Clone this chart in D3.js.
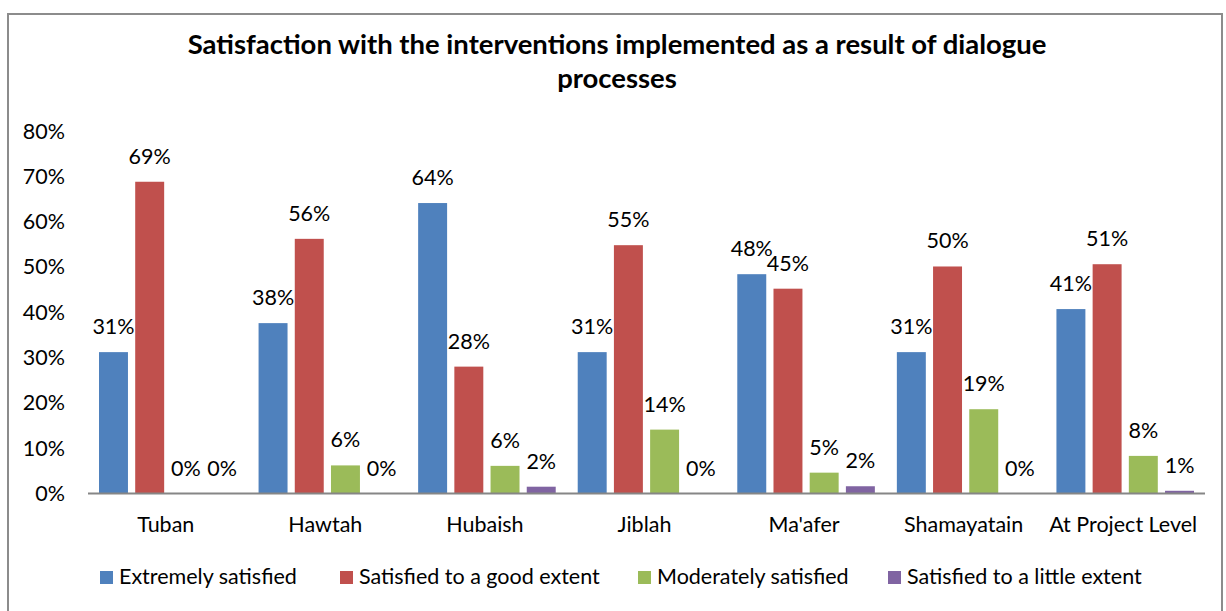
<!DOCTYPE html>
<html>
<head>
<meta charset="utf-8">
<script src="https://cdn.jsdelivr.net/npm/d3@7"></script>
<style>
  body { margin: 0; background: #fff; }
  svg { display: block; font-family: Lato, "Open Sans", sans-serif; }
</style>
</head>
<body>
<div id="chart"></div>
<script>
// data (percent)
var categories = ["Tuban", "Hawtah", "Hubaish", "Jiblah", "Ma'afer", "Shamayatain", "At Project Level"];
var seriesNames = ["Extremely satisfied", "Satisfied to a good extent", "Moderately satisfied", "Satisfied to a little extent"];
var extremely = [31.2, 37.6, 64.1, 31.2, 48.4, 31.2, 40.7];
var goodExtent = [68.8, 56.2, 28.0, 54.8, 45.2, 50.1, 50.6];
var moderately = [0, 6.2, 6.1, 14.1, 4.6, 18.6, 8.3];
var littleExtent = [0, 0, 1.5, 0, 1.6, 0, 0.6];
var yTicks = [0, 10, 20, 30, 40, 50, 60, 70, 80];
var colors = ["#4f81bd", "#c0504d", "#9bbb59", "#8064a2"];

var series = [extremely, goodExtent, moderately, littleExtent];

var width = 1226, height = 611;
var fontSize = 21.5;
var svg = d3.select('#chart').append('svg')
    .attr('width', width)
    .attr('height', height);

// outer frame
svg.append('rect')
    .attr('x', 8).attr('y', 14)
    .attr('width', 1214).attr('height', 620)
    .attr('fill', 'none')
    .attr('stroke', '#8c8c8c')
    .attr('stroke-width', 2);

// title, sized so the first line spans the same width as the reference
var title = svg.append('g').attr('font-weight', 'bold').attr('fill', '#000').attr('text-anchor', 'middle');
var t1 = title.append('text').attr('x', 617).attr('y', 54)
    .text('Satisfaction with the interventions implemented as a result of dialogue');
var fs = 22;
t1.attr('font-size', fs);
var w = t1.node().getComputedTextLength();
fs = fs * 859 / w;
t1.attr('font-size', fs);
title.append('text').attr('x', 617).attr('y', 88).attr('font-size', fs).text('processes');

var x0 = d3.scaleBand().domain(categories).range([88, 1205]).padding(0);
var x1 = d3.scaleBand().domain(d3.range(series.length))
    .range([11, x0.bandwidth() - 11]).paddingInner(0.2).paddingOuter(0);
var y = d3.scaleLinear().domain([0, 80]).range([493.5, 131]);

// y tick labels
svg.append('g').selectAll('text')
    .data(yTicks)
    .join('text')
    .attr('x', 65)
    .attr('y', function(d) { return y(d); })
    .attr('dy', '0.35em')
    .attr('text-anchor', 'end')
    .attr('font-size', fontSize)
    .attr('fill', '#000')
    .text(function(d) { return d + '%'; });

// bars
var groups = svg.append('g').selectAll('g')
    .data(categories)
    .join('g')
    .attr('transform', function(d) { return 'translate(' + x0(d) + ',0)'; });

groups.selectAll('rect')
    .data(function(d, i) { return series.map(function(s, k) { return { k: k, v: s[i] }; }); })
    .join('rect')
    .attr('x', function(d) { return x1(d.k); })
    .attr('width', x1.bandwidth())
    .attr('y', function(d) { return y(d.v); })
    .attr('height', function(d) { return y(0) - y(d.v); })
    .attr('fill', function(d) { return colors[d.k]; });

groups.selectAll('text')
    .data(function(d, i) { return series.map(function(s, k) { return { k: k, v: s[i] }; }); })
    .join('text')
    .attr('x', function(d) { return x1(d.k) + x1.bandwidth() / 2; })
    .attr('y', function(d) { return y(d.v) - 18; })
    .attr('text-anchor', 'middle')
    .attr('font-size', fontSize)
    .attr('fill', '#000')
    .text(function(d) { return Math.round(d.v) + '%'; });

// x axis line
svg.append('line')
    .attr('x1', 88).attr('x2', 1205)
    .attr('y1', y(0)).attr('y2', y(0))
    .attr('stroke', '#868686')
    .attr('stroke-width', 2);

// category labels
svg.append('g').selectAll('text')
    .data(categories)
    .join('text')
    .attr('x', function(d) { return x0(d) + x0.bandwidth() / 2 - 2; })
    .attr('y', 532)
    .attr('text-anchor', 'middle')
    .attr('font-size', fontSize)
    .attr('fill', '#000')
    .text(function(d) { return d; });

// legend
var legendX = [100, 340, 638, 888];
var legend = svg.append('g').selectAll('g')
    .data(seriesNames)
    .join('g')
    .attr('transform', function(d, i) { return 'translate(' + legendX[i] + ',571)'; });
legend.append('rect')
    .attr('width', 13).attr('height', 13)
    .attr('fill', function(d, i) { return colors[i]; });
legend.append('text')
    .attr('x', 19).attr('y', 13)
    .attr('font-size', fontSize)
    .attr('fill', '#000')
    .text(function(d) { return d; });
</script>
</body>
</html>
